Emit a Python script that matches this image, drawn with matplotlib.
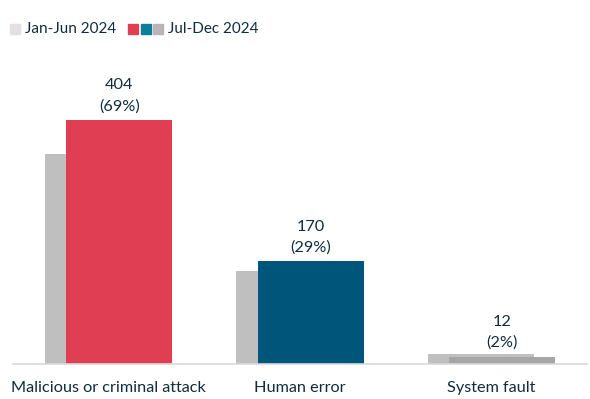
import matplotlib
matplotlib.use("Agg")
import matplotlib.pyplot as plt
import numpy as np

categories = ["Malicious or criminal attack", "Human error", "System fault"]
jan_jun = [347, 154, 16]
jul_dec = [404, 170, 12]
jul_dec_labels = ["404\n(69%)", "170\n(29%)", "12\n(2%)"]
series_names = ["Jan-Jun 2024", "Jul-Dec 2024"]

jan_colors = ["#bfbfbf", "#bfbfbf", "#c0c0c0"]
jul_colors = ["#e03e52", "#00567a", "#a6a6a6"]
text_color = "#0f2d3d"

plt.rcParams['font.family'] = ['Lato', 'DejaVu Sans']
fs = 11.7

fig = plt.figure(figsize=(5.9, 3.99), dpi=100)
ax = fig.add_axes([13/590, 1 - 364/399, (587 - 13)/590, (364 - 60)/399])

x = np.arange(len(categories))
w = 0.554
off = 0.056
ax.bar(x - off, jan_jun, width=w, color=jan_colors, zorder=1)
ax.bar(x + off, jul_dec, width=w, color=jul_colors, zorder=2)

for xi, v, lab in zip(x, jul_dec, jul_dec_labels):
    ax.text(xi + off, v + 11, lab, ha='center', va='bottom', fontsize=fs,
            color=text_color, linespacing=1.6)

ax.set_xlim(-0.5, 2.5)
ax.set_ylim(0, 404 * 304 / 244)
ax.set_xticks(x)
ax.set_xticklabels(categories, fontsize=fs, color=text_color)
ax.tick_params(axis='x', length=0, pad=12)
ax.set_yticks([])
for s in ['top', 'left', 'right']:
    ax.spines[s].set_visible(False)
ax.spines['bottom'].set_color('#d9d9d9')
ax.spines['bottom'].set_linewidth(1.2)

# legend
lfs = 11.0
ly = 1 - 29/399
def sq(xp, c):
    fig.patches.append(plt.Rectangle((xp/590, ly - 5/399), 10/590, 10/399,
                                     transform=fig.transFigure, color=c))
sq(10, "#e4dfe2")
fig.text(25/590, ly, series_names[0], va='center', ha='left', fontsize=lfs, color=text_color)
sq(128, "#e03e52")
sq(141, "#0a7f99")
sq(153, "#bcb3b8")
fig.text(168/590, ly, series_names[1], va='center', ha='left', fontsize=lfs, color=text_color)

fig.savefig("out.png", dpi=100)
